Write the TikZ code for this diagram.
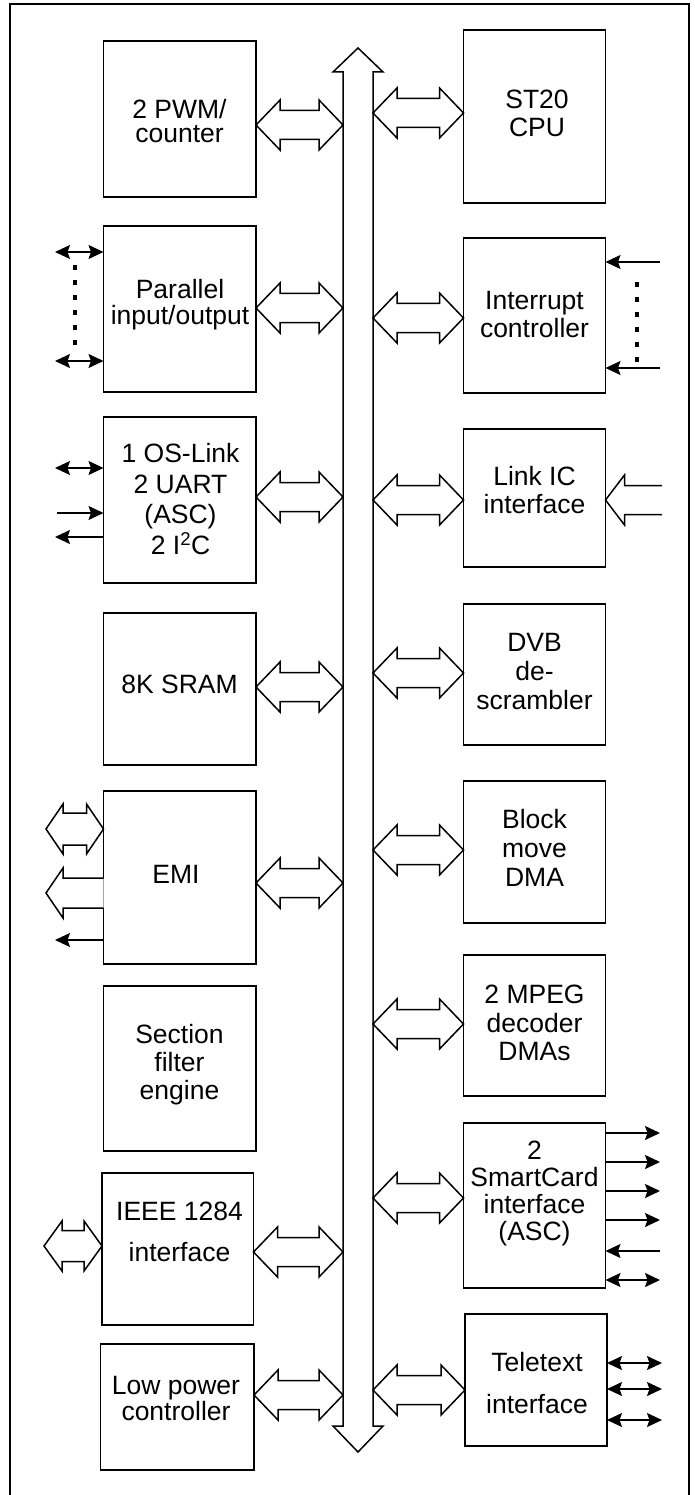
\documentclass[tikz,border=0pt]{standalone}
\usepackage{fontspec}
\setmainfont{Liberation Sans}
\usetikzlibrary{arrows.meta,calc}

% hollow double-headed bus arrow between two points at the same height
% #1 left end, #2 right end, #3 head length, #4 head half width, #5 shaft half width
\newcommand\hollowdbl[5]{%
  \draw[hollow] let \p1=(#1), \p2=(#2) in
    (\x1,\y1) -- (\x1+#3pt,\y1+#4pt) -- (\x1+#3pt,\y1+#5pt) -- (\x2-#3pt,\y1+#5pt)
    -- (\x2-#3pt,\y1+#4pt) -- (\x2,\y1) -- (\x2-#3pt,\y1-#4pt) -- (\x2-#3pt,\y1-#5pt)
    -- (\x1+#3pt,\y1-#5pt) -- (\x1+#3pt,\y1-#4pt) -- cycle;}
% hollow single-headed arrow, head at #1 (left), open shaft end at #2 (right)
\newcommand\hollowone[5]{%
  \draw[hollow] let \p1=(#1), \p2=(#2) in
    (\x2,\y1+#5pt) -- (\x1+#3pt,\y1+#5pt) -- (\x1+#3pt,\y1+#4pt) -- (\x1,\y1)
    -- (\x1+#3pt,\y1-#4pt) -- (\x1+#3pt,\y1-#5pt) -- (\x2,\y1-#5pt);}
% block with given corners
\newcommand\blk[5]{%
  \node[box, minimum width={#4-#2}, minimum height={#5-#3}] (#1) at ({(#2+#4)/2},{(#3+#5)/2}) {};}

\tikzset{
  box/.style={draw, line width=1.3pt, inner sep=0pt, outer sep=0pt},
  lbl/.style={align=center, inner sep=0pt, font=\fontsize{26.5}{28}\selectfont},
  hollow/.style={line width=1.5pt, line join=miter, fill=white, draw},
  sig/.style={line width=1.6pt},
  dots/.style={line width=4pt, dash pattern=on 5pt off 10pt},
  pin/.tip={Stealth[length=15pt,width=14pt,inset=2.5pt]},
  pinout/.style={sig, -pin},
  pinio/.style={sig, pin-pin}
}

\begin{document}
\begin{tikzpicture}[x=1pt,y=-1pt]
\useasboundingbox (0,0) rectangle (694,1495);

% frame (open at the bottom)
\draw[line width=1.5pt] (10,1495) -- (10,4) -- (689,4) -- (689,1495);

% central bus
\node[inner sep=0pt, outer sep=0pt, minimum width=30, minimum height=1354] (bus) at (358,749) {};
\draw[hollow] (bus.south west) -- ++(-10,0) -- ++(25,26) -- ++(25,-26) -- (bus.south east)
  -- (bus.north east) -- ++(10,0) -- ++(-25,-24) -- ++(-25,24) -- (bus.north west) -- cycle;

% left column
\blk{pwm}{103.5}{41}{256}{197}
\blk{pio}{103.5}{226}{256}{392}
\blk{osl}{103.5}{417}{256}{583}
\blk{sram}{103.5}{613}{256}{765}
\blk{emi}{103.5}{791}{256}{964}
\blk{sfe}{103.5}{986}{256}{1151}
\blk{ieee}{102}{1173}{253.5}{1325}
\blk{lpc}{100.5}{1344}{254}{1470}

% right column
\blk{cpu}{463.5}{30}{605.5}{203}
\blk{intc}{463.5}{238}{605.5}{393}
\blk{lic}{463.5}{429}{605.5}{567}
\blk{dvb}{463.5}{604}{605.5}{745}
\blk{dma}{463.5}{781}{605.5}{923}
\blk{mpeg}{463.5}{955}{605.5}{1096}
\blk{scard}{463.5}{1123}{605.5}{1288}
\blk{ttx}{465}{1314}{607}{1446}

% block texts
\node[lbl, font=\fontsize{26.5}{24}\selectfont] (pwmT) at (179.5,121) {2 PWM/\\counter};
\node[lbl, font=\fontsize{26.5}{26}\selectfont] (pioT) at (180,305) {Parallel\\input/output};
\node[lbl, font=\fontsize{26.5}{30.5}\selectfont] (oslT) at (180.5,499) {1 OS-Link\\2 UART\\(ASC)\\2 I\textsuperscript{2}C};
\node[lbl] (sramT) at (179.5,684) {8K SRAM};
\node[lbl] (emiT) at (176,874) {EMI};
\node[lbl] (sfeT) at (179.5,1065) {Section\\filter\\engine};
\node[lbl, font=\fontsize{26.5}{41}\selectfont] (ieeeT) at (179.5,1232) {IEEE 1284\\interface};
\node[lbl, font=\fontsize{26.5}{26}\selectfont] (lpcT) at (176,1398) {Low power\\controller};

\node[lbl] (cpuT) at (537,113) {ST20\\CPU};
\node[lbl] (intcT) at (534.5,315) {Interrupt\\controller};
\node[lbl] (licT) at (534.5,490) {Link IC\\interface};
\node[lbl, font=\fontsize{26.5}{29}\selectfont] (dvbT) at (534.5,672) {DVB\\de-\\scrambler};
\node[lbl, font=\fontsize{26.5}{29}\selectfont] (dmaT) at (534.5,848) {Block\\move\\DMA};
\node[lbl, font=\fontsize{26.5}{28.5}\selectfont] (mpegT) at (534.5,1023) {2 MPEG\\decoder\\DMAs};
\node[lbl, font=\fontsize{26.5}{27}\selectfont] (scardT) at (534.5,1193) {2\\SmartCard\\interface\\(ASC)};
\node[lbl, font=\fontsize{26.5}{42}\selectfont] (ttxT) at (537,1383) {Teletext\\interface};

% bus connections, left side
\hollowdbl{pwm.east |- 0,125}{bus.west |- 0,125}{24}{25}{14.5}
\hollowdbl{pio.east |- 0,308}{bus.west |- 0,308}{24}{25}{14.5}
\hollowdbl{osl.east |- 0,497}{bus.west |- 0,497}{24}{25}{14.5}
\hollowdbl{sram.east |- 0,687}{bus.west |- 0,687}{24}{25}{14.5}
\hollowdbl{emi.east |- 0,883}{bus.west |- 0,883}{24}{25}{14.5}
\hollowdbl{ieee.east |- 0,1252}{bus.west |- 0,1252}{24}{25}{14.5}
\hollowdbl{lpc.east |- 0,1395}{bus.west |- 0,1395}{24}{25}{14.5}

% bus connections, right side
\hollowdbl{bus.east |- 0,113}{cpu.west |- 0,113}{24}{25}{14.5}
\hollowdbl{bus.east |- 0,318}{intc.west |- 0,318}{24}{25}{14.5}
\hollowdbl{bus.east |- 0,500}{lic.west |- 0,500}{24}{25}{14.5}
\hollowdbl{bus.east |- 0,673}{dvb.west |- 0,673}{24}{25}{14.5}
\hollowdbl{bus.east |- 0,850}{dma.west |- 0,850}{24}{25}{14.5}
\hollowdbl{bus.east |- 0,1024}{mpeg.west |- 0,1024}{24}{25}{14.5}
\hollowdbl{bus.east |- 0,1198}{scard.west |- 0,1198}{24}{25}{14.5}
\hollowdbl{bus.east |- 0,1390}{ttx.west |- 0,1390}{24}{25}{14.5}

% external pins: parallel port
\coordinate (pio1) at (55,252);
\coordinate (pio2) at (55,361);
\draw[pinio] (pio1) -- (pio.west |- pio1);
\draw[pinio] (pio2) -- (pio.west |- pio2);
\coordinate (pioD1) at (75,265);
\coordinate (pioD2) at (75,350);
\draw[dots] (pioD1) -- (pioD2);

% external pins: OS-Link, UART, I2C
\coordinate (osl1) at (55,468);
\coordinate (osl2) at (57,513);
\coordinate (osl3) at (55,537);
\draw[pinio] (osl1) -- (osl.west |- osl1);
\draw[pinout] (osl2) -- (osl.west |- osl2);
\draw[pinout] (osl.west |- osl3) -- (osl3);

% external pins: EMI
\coordinate (emi1) at (46,829);
\coordinate (emi2) at (46,893);
\coordinate (emi3) at (55,940);
\hollowdbl{emi1}{emi.west |- emi1}{17}{25}{16}
\hollowone{emi2}{emi.west |- emi2}{17}{25}{15}
\draw[pinout] (emi.west |- emi3) -- (emi3);

% external pins: IEEE 1284
\coordinate (ieee1) at (44,1246);
\hollowdbl{ieee1}{ieee.west |- ieee1}{18}{25}{15.5}

% external pins: interrupts
\coordinate (intc1) at (660,262);
\coordinate (intc2) at (660,368);
\draw[pinout] (intc1) -- (intc.east |- intc1);
\draw[pinout] (intc2) -- (intc.east |- intc2);
\coordinate (intcD1) at (637,282);
\coordinate (intcD2) at (637,365);
\draw[dots] (intcD1) -- (intcD2);

% external pins: Link IC
\coordinate (lic1) at (662,500);
\hollowone{lic.east |- lic1}{lic1}{19}{25}{14.5}

% external pins: SmartCard
\coordinate (sc1) at (660,1133);
\coordinate (sc2) at (660,1162);
\coordinate (sc3) at (660,1191);
\coordinate (sc4) at (660,1220);
\coordinate (sc5) at (660,1251);
\coordinate (sc6) at (660,1280);
\draw[pinout] (scard.east |- sc1) -- (sc1);
\draw[pinout] (scard.east |- sc2) -- (sc2);
\draw[pinout] (scard.east |- sc3) -- (sc3);
\draw[pinout] (scard.east |- sc4) -- (sc4);
\draw[pinout] (sc5) -- (scard.east |- sc5);
\draw[pinio] (scard.east |- sc6) -- (sc6);

% external pins: Teletext
\coordinate (tt1) at (662,1363);
\coordinate (tt2) at (662,1389);
\coordinate (tt3) at (662,1420);
\draw[pinio] (ttx.east |- tt1) -- (tt1);
\draw[pinio] (ttx.east |- tt2) -- (tt2);
\draw[pinio] (ttx.east |- tt3) -- (tt3);
\end{tikzpicture}
\end{document}
